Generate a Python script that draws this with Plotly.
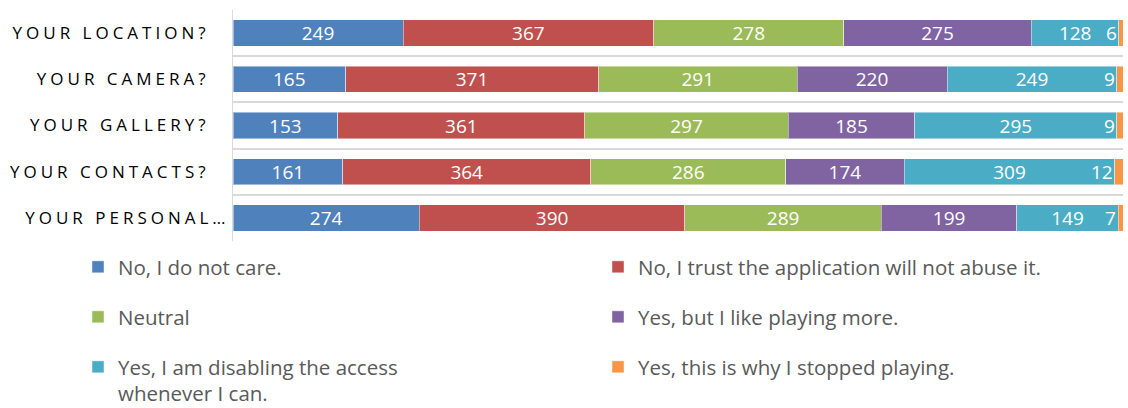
import plotly.graph_objects as go

categories = ["YOUR LOCATION?", "YOUR CAMERA?", "YOUR GALLERY?", "YOUR CONTACTS?", "YOUR PERSONAL…"]
series_names = [
    "No, I do not care.",
    "No, I trust the application will not abuse it.",
    "Neutral",
    "Yes, but I like playing more.",
    "Yes, I am disabling the access<br>whenever I can.",
    "Yes, this is why I stopped playing.",
]
no_care = [249, 165, 153, 161, 274]
trust_app = [367, 371, 361, 364, 390]
neutral = [278, 291, 297, 286, 289]
yes_but_playing = [275, 220, 185, 174, 199]
yes_disabling = [128, 249, 295, 309, 149]
yes_stopped = [6, 9, 9, 12, 7]

colors = ["#4F81BD", "#C0504D", "#9BBB59", "#8064A2", "#4BACC6", "#F79646"]
all_series = [no_care, trust_app, neutral, yes_but_playing, yes_disabling, yes_stopped]

FONT = "Open Sans"

fig = go.Figure()
legend_ids = ["legend", "legend2", "legend3", "legend4", "legend5", "legend6"]
for i, (name, vals, col) in enumerate(zip(series_names, all_series, colors)):
    last = i == len(all_series) - 1
    fig.add_trace(go.Bar(
        y=categories, x=vals, name=name, orientation="h",
        marker=dict(color=col, line=dict(color="rgba(255,255,255,0.45)", width=1)),
        text=None if last else vals,
        textposition="inside", insidetextanchor="middle", textangle=0,
        constraintext="none",
        textfont=dict(color="white", size=19, family=FONT),
        hoverinfo="skip", legend=legend_ids[i],
    ))

# labels of the tiny last segment, right-aligned at its start
for j, cat in enumerate(categories):
    total = sum(s[j] for s in all_series)
    start = 100.0 * sum(s[j] for s in all_series[:-1]) / total
    fig.add_annotation(x=start, y=cat, xref="x", yref="y", text=str(yes_stopped[j]),
                       xanchor="right", yanchor="middle", showarrow=False, xshift=0,
                       font=dict(color="white", size=19, family=FONT))

L, R, T, B = 233, 5, 10, 167
W, H = 1128, 408
pw, ph = W - L - R, H - T - B

def px_x(x):
    return (x - L) / pw

def px_y(y):
    return (H - B - y) / ph

legend_pos = [(78, 247), (598, 247), (78, 297), (598, 297), (78, 347), (598, 347)]
layout_legends = {}
for lid, (lx, ly) in zip(legend_ids, legend_pos):
    layout_legends[lid] = dict(
        x=px_x(lx), y=px_y(ly), xanchor="left", yanchor="top",
        xref="paper", yref="paper", bgcolor="rgba(0,0,0,0)",
        font=dict(size=20.5, color="#595959", family=FONT),
        valign="top", itemclick=False, itemdoubleclick=False,
    )

fig.update_layout(
    width=W, height=H,
    margin=dict(l=L, r=R, t=T, b=B, autoexpand=False),
    barmode="stack", barnorm="percent", bargap=0.43,
    plot_bgcolor="white", paper_bgcolor="white",
    showlegend=True,
    xaxis=dict(range=[0, 100], showgrid=False, showticklabels=False, zeroline=False,
               showline=False, fixedrange=True),
    yaxis=dict(autorange="reversed", tickson="boundaries", showgrid=True,
               gridcolor="#D9D9D9", gridwidth=2, showline=True, linecolor="#D9D9D9",
               linewidth=1, ticks="", ticklabelstandoff=19,
               tickfont=dict(size=17, color="#000000", family=FONT)),
    **layout_legends,
)

post = """
var gd = document.getElementById('{plot_id}');
gd.querySelectorAll('.ytick text').forEach(function(t){
  t.style.letterSpacing = '4px';
  if ((t.textContent || '').slice(-1) === '\\u2026') { t.setAttribute('dx', '20'); }
});
"""
fig.write_html("out.html", post_script=post)
